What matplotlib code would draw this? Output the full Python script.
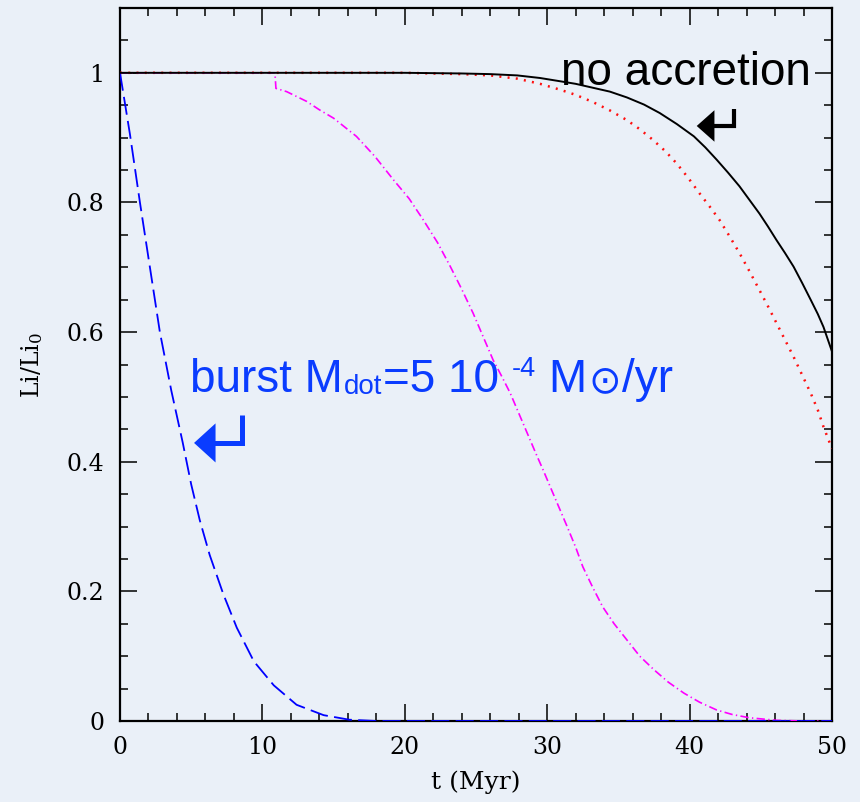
import matplotlib
matplotlib.use("Agg")
import matplotlib.pyplot as plt
from matplotlib.ticker import MultipleLocator
from matplotlib.path import Path
from matplotlib.patches import FancyArrowPatch
from matplotlib import transforms

# Lithium depletion vs time for different accretion histories
t_noacc = [0, 10, 20, 22, 24, 26, 27.9, 29.5, 30.9, 32.0, 33.2, 34.4, 35.6, 36.8, 37.9, 39.1,
           40.3, 41.1, 41.9, 42.7, 43.5, 44.2, 44.9, 45.5, 46.1, 46.7, 47.3, 47.9, 48.5, 49.0, 49.4, 50]
li_noacc = [1, 1, 1, 0.9995, 0.999, 0.998, 0.996, 0.992, 0.987, 0.983, 0.977, 0.971, 0.962, 0.951,
            0.938, 0.921, 0.902, 0.885, 0.866, 0.846, 0.825, 0.804, 0.783, 0.763, 0.742, 0.722,
            0.701, 0.676, 0.650, 0.628, 0.608, 0.570]

t_slow = [0, 20, 22, 24, 26, 27.9, 29.5, 30.9, 32.0, 33.2, 34.4, 35.6, 36.5, 37.4, 38.3, 39.1,
          39.9, 40.7, 41.4, 42.1, 42.8, 43.5, 44.2, 44.9, 45.5, 46.1, 46.7, 47.3, 47.9, 48.5,
          49.0, 49.4, 50]
li_slow = [1, 1, 0.999, 0.998, 0.996, 0.991, 0.983, 0.974, 0.966, 0.955, 0.942, 0.927, 0.913,
           0.897, 0.879, 0.860, 0.838, 0.814, 0.794, 0.773, 0.748, 0.722, 0.694, 0.665, 0.640,
           0.614, 0.588, 0.562, 0.534, 0.506, 0.480, 0.454, 0.420]

t_late = [0, 10.88, 10.95, 11.7, 13.1, 14.0, 15.0, 16.6, 17.9, 19.2, 20.3, 21.3, 22.3, 23.2,
          24.0, 24.8, 25.5, 26.2, 26.8, 27.4, 28.0, 28.6, 29.2, 29.7, 30.2, 30.8, 31.4, 32.0,
          32.5, 33.2, 33.9, 34.7, 35.6, 36.5, 37.5, 38.5, 39.6, 40.7, 41.9, 43.0, 44.2, 46.1,
          48, 50]
li_late = [1, 1, 0.976, 0.971, 0.956, 0.943, 0.930, 0.902, 0.871, 0.835, 0.806, 0.773, 0.738,
           0.701, 0.666, 0.629, 0.593, 0.557, 0.532, 0.506, 0.475, 0.444, 0.413, 0.388, 0.362,
           0.331, 0.300, 0.268, 0.238, 0.206, 0.176, 0.150, 0.125, 0.100, 0.079, 0.060, 0.043,
           0.029, 0.017, 0.010, 0.005, 0.001, 0, 0]

t_burst = [0, 0.7, 1.4, 2.1, 2.8, 3.6, 4.4, 5.0, 5.6, 6.3, 7.25, 8.2, 9.4, 10.8, 12.4, 14.3,
           16.1, 18, 50]
li_burst = [1, 0.905, 0.80, 0.70, 0.60, 0.51, 0.43, 0.365, 0.31, 0.256, 0.196, 0.144, 0.092,
            0.055, 0.025, 0.009, 0.002, 0, 0]

x_ticks = [0, 10, 20, 30, 40, 50]
x_ticklabels = ["0", "10", "20", "30", "40", "50"]
y_ticks = [0, 0.2, 0.4, 0.6, 0.8, 1.0]
y_ticklabels = ["0", "0.2", "0.4", "0.6", "0.8", "1"]

bg = "#eaf0f8"
serif = "DejaVu Serif"
sans = "Liberation Sans"
blue_txt = "#0a3cff"

fig = plt.figure(figsize=(8.6, 8.02), dpi=100, facecolor=bg)
ax = fig.add_axes([120 / 860, 81 / 802, 712 / 860, 713 / 802], facecolor=bg)

ax.plot(t_noacc, li_noacc, color="black", lw=1.4, zorder=4)
ax.plot(t_slow, li_slow, color="#ff1010", lw=1.8, dashes=(0.8, 2.5), zorder=3)
ax.plot(t_late, li_late, color="#ff00ff", lw=1.2, dashes=(5, 2, 0.8, 2), zorder=3)
ax.plot(t_burst, li_burst, color="#0000ff", lw=1.3, dashes=(10, 3.5), zorder=3)

ax.set_xlim(0, 50)
ax.set_ylim(0, 1.1)
ax.set_xticks(x_ticks)
ax.set_xticklabels(x_ticklabels)
ax.set_yticks(y_ticks)
ax.set_yticklabels(y_ticklabels)
ax.xaxis.set_minor_locator(MultipleLocator(2))
ax.yaxis.set_minor_locator(MultipleLocator(0.05))
ax.tick_params(which="both", direction="in", top=True, right=True, color="black", width=1.1)
ax.tick_params(which="major", length=12, pad=11, labelsize=17)
ax.tick_params(which="minor", length=6)
for lab in ax.get_xticklabels() + ax.get_yticklabels():
    lab.set_fontfamily(serif)
for sp in ax.spines.values():
    sp.set_linewidth(1.6)

ax.set_xlabel("t (Myr)", fontfamily=serif, fontsize=18, labelpad=8)
ax.set_ylabel(r"Li/Li$_{\rm 0}$", fontfamily=serif, fontsize=17, labelpad=16)
ax.yaxis.label.set_math_fontfamily("dejavuserif")

# "no accretion" label with its hook arrow
ax.text(31.0, 0.981, "no accretion", fontfamily=sans, fontsize=33,
        color="black", va="baseline", ha="left", zorder=5)


def hook_arrow(x_right, y_top, y_corner, x_tip, color, lw, head_len, head_w):
    path = Path([(x_right, y_top), (x_right, y_corner), (x_tip, y_corner)],
                [Path.MOVETO, Path.LINETO, Path.LINETO])
    arr = FancyArrowPatch(path=path,
                          arrowstyle=f"-|>,head_length={head_len},head_width={head_w}",
                          mutation_scale=10, lw=lw, color=color, joinstyle="miter",
                          capstyle="butt", shrinkA=0, shrinkB=0, zorder=5)
    ax.add_patch(arr)


hook_arrow(43.1, 0.944, 0.918, 40.5, "black", 3.0, 0.9, 0.8)

# burst label built piece by piece along one baseline
fig.canvas.draw()
renderer = fig.canvas.get_renderer()
pieces = [
    ("burst M", 33, 0, sans, 0),
    ("dot", 20, -1.5, sans, 0.5),
    ("=5 10", 33, 0, sans, 1.0),
    ("-4", 19.5, 11, sans, 9),
    ("M", 33, 0, sans, 9),
    ("\u2299", 28, 0, "DejaVu Sans", 1.5),
    ("/yr", 33, 0, sans, 0.5),
]
x0, y0 = 4.92, 0.508
x_off = 0.0
for s, size, dy, fam, gap in pieces:
    x_off += gap
    tr = transforms.offset_copy(ax.transData, fig=fig, x=x_off, y=dy, units="points")
    txt = ax.text(x0, y0, s, transform=tr, fontsize=size, fontfamily=fam,
                  color=blue_txt, va="baseline", ha="left", zorder=5)
    x_off += txt.get_window_extent(renderer).width * 72.0 / fig.dpi

hook_arrow(8.55, 0.472, 0.429, 5.2, blue_txt, 3.6, 1.1, 1.0)

fig.savefig("out.png", dpi=100, facecolor=bg)
